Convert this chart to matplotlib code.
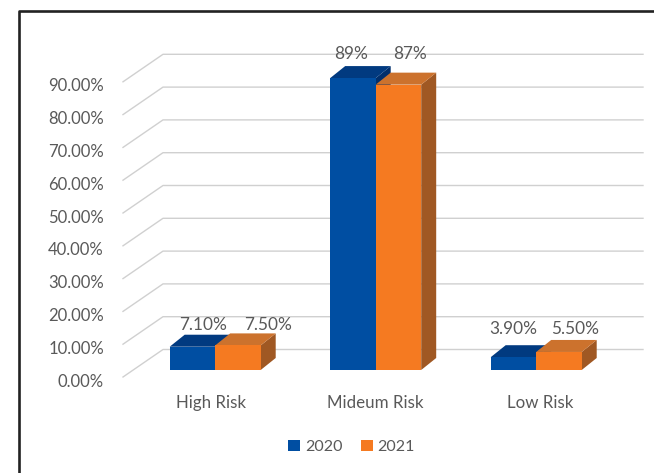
"""Clustered bar chart of risk levels for 2020 and 2021, drawn with a 3D look."""

import matplotlib

matplotlib.use("Agg")
import matplotlib.pyplot as plt
from matplotlib.lines import Line2D
from matplotlib.patches import Patch, Polygon


categories = ["High Risk", "Mideum Risk", "Low Risk"]
years = ["2020", "2021"]
values_2020 = [7.1, 89, 3.9]
values_2021 = [7.5, 87, 5.5]
labels_2020 = ["7.10%", "89%", "3.90%"]
labels_2021 = ["7.50%", "87%", "5.50%"]
axis_ticks = [0, 10, 20, 30, 40, 50, 60, 70, 80, 90]

WIDTH, HEIGHT = 654, 473
CAT_PX = 160.5  # pixels between category centres
PCT_PX = 3.28  # pixels per percentage point
ORIGIN_X, ORIGIN_Y = 375.7, 370  # middle category, bar base
BAR_W = 45.5 / CAT_PX
DEPTH_X, DEPTH_Y = 15 / CAT_PX, 12 / PCT_PX

TEXT = "#595959"
GRID = "#D0D0D0"
BLUE = ("#004EA2", "#013A80", "#012F6C")  # front, top, side
ORANGE = ("#F57A21", "#CC722D", "#A05823")

plt.rcParams["font.family"] = ["Lato", "DejaVu Sans"]


def draw_box(ax, left, value, colors, zorder):
    """Draw the side, top and front faces of one bar."""
    right = left + BAR_W
    side = [(right, 0), (right + DEPTH_X, DEPTH_Y),
            (right + DEPTH_X, value + DEPTH_Y), (right, value)]
    top = [(left, value), (left + DEPTH_X, value + DEPTH_Y),
           (right + DEPTH_X, value + DEPTH_Y), (right, value)]
    front = [(left, 0), (left, value), (right, value), (right, 0)]
    ax.add_patch(Polygon(side, fc=colors[2], ec="none", zorder=zorder))
    ax.add_patch(Polygon(top, fc=colors[1], ec="none", zorder=zorder))
    ax.add_patch(Polygon(front, fc=colors[0], ec="none", zorder=zorder))


def main():
    fig = plt.figure(figsize=(WIDTH / 100, HEIGHT / 100), dpi=100)
    ax = fig.add_axes([0, 0, 1, 1])
    ax.set_xlim(-ORIGIN_X / CAT_PX, (WIDTH - ORIGIN_X) / CAT_PX)
    ax.set_ylim((ORIGIN_Y - HEIGHT) / PCT_PX, ORIGIN_Y / PCT_PX)
    ax.axis("off")

    # outer frame, open at the right and bottom
    ax.add_line(Line2D([18.5 / WIDTH, 18.5 / WIDTH, 1], [0, 1 - 11.5 / HEIGHT, 1 - 11.5 / HEIGHT],
                       transform=ax.transAxes, color="#222222", lw=1.9))

    # wall and floor gridlines
    x_front = (123 - ORIGIN_X) / CAT_PX
    x_back = (163 - ORIGIN_X) / CAT_PX
    x_end = (643 - ORIGIN_X) / CAT_PX
    for tick in axis_ticks:
        y_front = tick - 7 / PCT_PX
        y_back = tick + 20.5 / PCT_PX
        ax.plot([x_front, x_back, x_end], [y_front, y_back, y_back], color=GRID, lw=1, zorder=1)
        ax.text((104 - ORIGIN_X) / CAT_PX, y_front - 4.5 / PCT_PX, f"{tick:.2f}%", ha="right",
                va="center", fontsize=12, color=TEXT)

    # nudges (px) so the value labels sit clear of each other
    offsets_2020 = [(10.5, 9.5), (-1.5, 12), (0, 16)]
    offsets_2021 = [(30.5, 8.5), (11.5, 18.5), (16, 11)]

    for i, name in enumerate(categories):
        draw_box(ax, i - 1 - BAR_W, values_2020[i], BLUE, 2)
        draw_box(ax, i - 1, values_2021[i], ORANGE, 3)
        tops = [values_2020[i], values_2021[i]]
        centres = [i - 1 - BAR_W / 2, i - 1 + BAR_W / 2]
        texts = [labels_2020[i], labels_2021[i]]
        nudges = [offsets_2020[i], offsets_2021[i]]
        for cx, top, text, (dx, dy) in zip(centres, tops, texts, nudges):
            ax.annotate(text, (cx, top + DEPTH_Y), xytext=(dx * 0.72, dy * 0.72),
                        textcoords="offset points", ha="center", va="center",
                        fontsize=12.4, color=TEXT, zorder=5)
        ax.text((i - 1) * 1.025, (ORIGIN_Y - 403) / PCT_PX, name, ha="center", va="center",
                fontsize=12.2, color=TEXT)

    handles = [Patch(fc=BLUE[0], label=years[0]), Patch(fc=ORANGE[0], label=years[1])]
    ax.legend(handles=handles, ncol=2, frameon=False, loc="center",
              bbox_to_anchor=(351.5 / WIDTH, 1 - 447 / HEIGHT), fontsize=11.5, labelcolor=TEXT,
              handlelength=0.75, handleheight=0.7, handletextpad=0.32, columnspacing=1.13)

    fig.savefig("out.png", dpi=100)


if __name__ == "__main__":
    main()
